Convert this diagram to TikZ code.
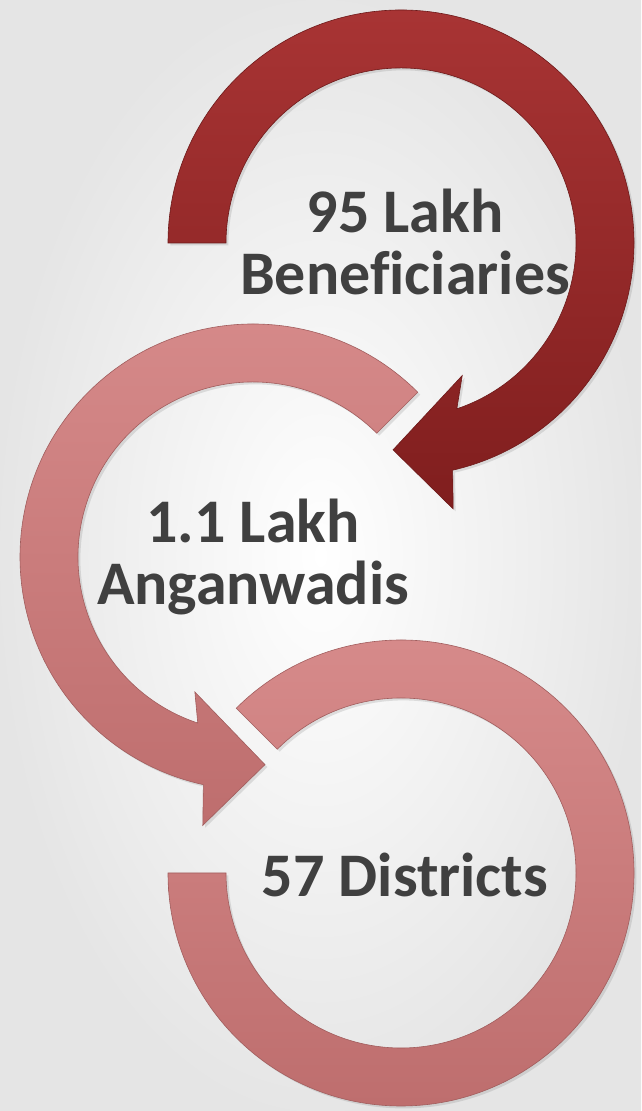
\documentclass[tikz,border=0pt]{standalone}
\usepackage{fontspec}
\setmainfont{Carlito}[Ligatures=NoCommon]
\usetikzlibrary{shadows}

\definecolor{darktop}{RGB}{168,52,52}
\definecolor{darkbot}{RGB}{128,30,30}
\definecolor{pinktop}{RGB}{214,138,138}
\definecolor{pinkbot}{RGB}{190,110,110}
\definecolor{labelgray}{RGB}{64,64,64}

\begin{document}
\begin{tikzpicture}[x=0.5pt, y=0.5pt,
  bevel/.style={drop shadow={opacity=0.22, shadow xshift=1.2pt, shadow yshift=-1.2pt}},
  darkarrow/.style={bevel, top color=darktop, bottom color=darkbot, draw=darkbot!85!black, line width=0.3pt},
  pinkarrow/.style={bevel, top color=pinktop, bottom color=pinkbot, draw=pinkbot!85!black, line width=0.3pt},
  lbl/.style={text=labelgray, font=\fontsize{31}{31}\selectfont\bfseries, align=center, inner sep=0pt}]
  \useasboundingbox (0,0) rectangle (641,1111);
  \shade[inner color=white, outer color=black!10] (0,0) rectangle (641,1111);

  \begin{scope}[shift={(401,868)}]
    \path[darkarrow] (180:233) arc[start angle=180, end angle=-77.2, radius=233]
      -- (-78.9:271) -- (-92.2:207) -- (-65.2:146) -- (-71.4:175)
      arc[start angle=-71.4, end angle=180, radius=175] -- cycle;
  \end{scope}

  \begin{scope}[shift={(253,554)}]
    \path[pinkarrow] (45:233) arc[start angle=45, end angle=257.7, radius=233]
      -- (259.4:273) -- (273.3:208) -- (246.7:147) -- (251.6:175)
      arc[start angle=251.6, end angle=45, radius=175] -- cycle;
  \end{scope}

  \begin{scope}[shift={(401,238)}]
    \path[pinkarrow] (180:233) arc[start angle=180, end angle=495, radius=233]
      -- (495:175) arc[start angle=495, end angle=180, radius=175] -- cycle;
  \end{scope}

  \node[lbl, anchor=base] (benef) at (405,816) {95 Lakh\\Beneficiaries};
  \node[lbl, anchor=base] (angan) at (253,506) {1.1 Lakh\\Anganwadis};
  \node[lbl, anchor=base] (dist) at (405,214) {57 Districts};
\end{tikzpicture}
\end{document}
